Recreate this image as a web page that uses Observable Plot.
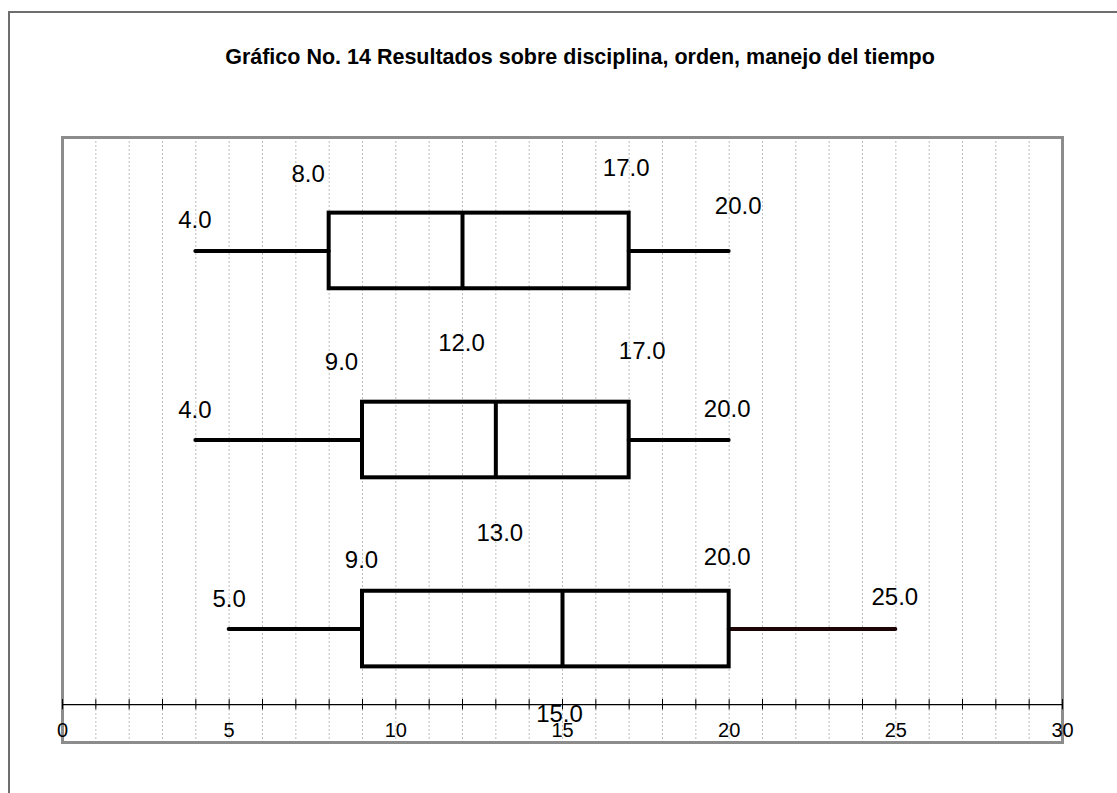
<!DOCTYPE html>
<html>
<head>
<meta charset="utf-8">
<script src="https://cdn.jsdelivr.net/npm/d3@7"></script>
<script src="https://cdn.jsdelivr.net/npm/@observablehq/plot@0.6"></script>
<style>
  body { margin: 0; background: #fff; font-family: "Liberation Sans", Arial, sans-serif; }
  #frame { position: absolute; left: 8px; top: 11px; width: 1300px; height: 1000px; border: 2px solid #6e6e6e; }
  #title { position: absolute; left: 0; top: 45px; width: 1160px; text-align: center;
           font-weight: bold; font-size: 21.5px; line-height: 24px; color: #000; }
  #chart { position: absolute; left: 0; top: 0; }
</style>
</head>
<body>
<div id="frame"></div>
<div id="title">Gráfico No. 14 Resultados sobre disciplina, orden, manejo del tiempo</div>
<div id="chart"></div>
<script>
// Five-number summaries, one entry per box (top to bottom)
const groups  = ["Grupo 1", "Grupo 2", "Grupo 3"];
const minimum = [4, 4, 5];
const lowerQ  = [8, 9, 9];
const median  = [12, 13, 15];
const upperQ  = [17, 17, 20];
const maximum = [20, 20, 25];

// Axis ticks
const majorTicks = [0, 5, 10, 15, 20, 25, 30];
const minorTicks = d3.range(0, 31);

// Boxes stacked from the top; row 3 is the top box
const boxes = groups.map((g, i) => ({
  group: g, row: groups.length - i,
  min: minimum[i], q1: lowerQ[i], med: median[i], q3: upperQ[i], max: maximum[i]
}));

const axisY = 0.6;     // row coordinate of the value axis
const half = 0.2;      // half box height in row units

// Placement of each value label relative to its point [dx, dy] in px
const labelNudge = {
  min: [[-1, -31], [-1, -30], [0, -30]],
  q1:  [[-21, -77], [-21, -78], [-1, -69]],
  med: [[-1, 92], [4, 93], [-3, 85]],
  q3:  [[-3, -83], [13, -89], [-2, -72]],
  max: [[9, -45], [-2, -31], [-1, -32]]
};

const labelMarks = [];
boxes.forEach((b, i) => {
  for (const key of ["min", "q1", "med", "q3", "max"]) {
    const [dx, dy] = labelNudge[key][i];
    labelMarks.push(Plot.text([b], {
      x: key, y: "row", text: d => d[key].toFixed(1),
      dx, dy, fontSize: 24, fill: "#000", textAnchor: "middle"
    }));
  }
});

const chart = Plot.plot({
  width: 1117,
  height: 793,
  marginLeft: 62,
  marginRight: 55,
  marginTop: 137,
  marginBottom: 51,
  style: { fontFamily: "'Liberation Sans', Arial, sans-serif", background: "transparent", overflow: "visible" },
  x: { domain: [0, 30], axis: null },
  y: { domain: [0.4, 3.6], axis: null },
  marks: [
    // dotted vertical grid
    Plot.ruleX(d3.range(1, 30), { stroke: "#bdbdbd", strokeWidth: 1, strokeDasharray: "2,2" }),
    Plot.frame({ stroke: "#8c8c8c", strokeWidth: 3 }),
    // value axis line with ticks crossing it
    Plot.ruleY([axisY], { stroke: "#000", strokeWidth: 1.2 }),
    Plot.ruleX(minorTicks, { y1: axisY - 0.027, y2: axisY + 0.027, stroke: "#000", strokeWidth: 1 }),
    Plot.text(majorTicks, { x: d => d, y: axisY, dy: 26, text: d => String(d), fontSize: 20, fill: "#000" }),
    // whiskers
    Plot.ruleY(boxes, { x1: "min", x2: "q1", y: "row", stroke: "#000", strokeWidth: 4, strokeLinecap: "round" }),
    Plot.ruleY(boxes, { x1: "q3", x2: "max", y: "row", stroke: d => d.row === 1 ? "#1c0404" : "#000", strokeWidth: 4, strokeLinecap: "round" }),
    // boxes and medians
    Plot.rect(boxes, { x1: "q1", x2: "q3", y1: d => d.row - half, y2: d => d.row + half,
                       fill: "none", stroke: "#000", strokeWidth: 4 }),
    Plot.ruleX(boxes, { x: "med", y1: d => d.row - half, y2: d => d.row + half, stroke: "#000", strokeWidth: 4 }),
    ...labelMarks
  ]
});

document.getElementById("chart").appendChild(chart);
</script>
</body>
</html>
